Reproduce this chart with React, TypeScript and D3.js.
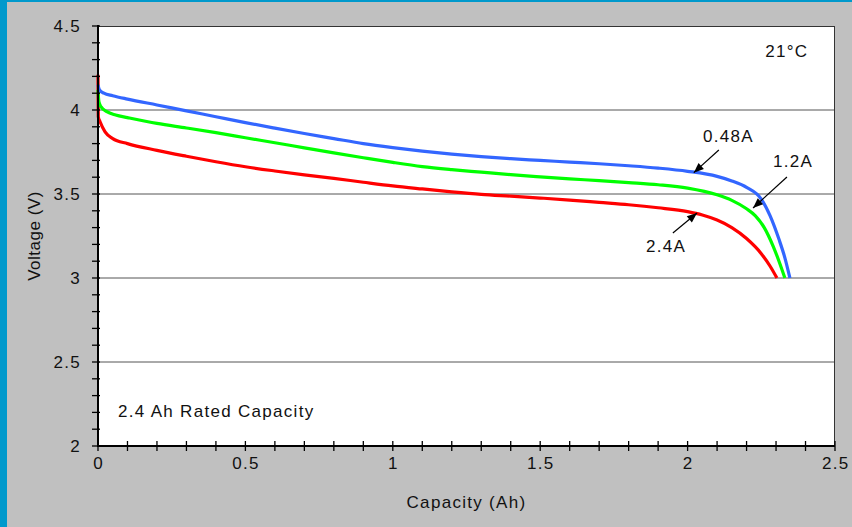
import React from "react";
import * as d3 from "d3";

const W = 852;
const H = 527;

const xTicksMajor = [0, 0.5, 1, 1.5, 2, 2.5];
const yTicksMajor = [2, 2.5, 3, 3.5, 4, 4.5];
const gridValues = [2.5, 3, 3.5, 4];

const redCap = [0, 0.001, 0.007, 0.024, 0.05, 0.1, 0.2, 0.3, 0.4, 0.5, 0.6, 0.7, 0.8, 0.9, 1.0, 1.1, 1.2, 1.3, 1.4, 1.5, 1.6, 1.7, 1.8, 1.9, 2.0, 2.05, 2.1, 2.15, 2.2, 2.25, 2.28, 2.303];
const redVolt = [4.21, 3.96, 3.93, 3.87, 3.83, 3.8, 3.76, 3.725, 3.692, 3.662, 3.637, 3.614, 3.593, 3.57, 3.548, 3.53, 3.513, 3.498, 3.487, 3.476, 3.464, 3.45, 3.436, 3.418, 3.395, 3.375, 3.345, 3.3, 3.235, 3.145, 3.07, 3.0];

const greenCap = [0, 0.003, 0.01, 0.03, 0.06, 0.1, 0.2, 0.3, 0.4, 0.5, 0.6, 0.7, 0.8, 0.9, 1.0, 1.1, 1.2, 1.3, 1.4, 1.5, 1.6, 1.7, 1.8, 1.9, 2.0, 2.1, 2.15, 2.2, 2.23, 2.26, 2.29, 2.31, 2.33];
const greenVolt = [4.12, 4.05, 4.02, 3.99, 3.97, 3.955, 3.92, 3.893, 3.865, 3.835, 3.805, 3.775, 3.745, 3.716, 3.688, 3.663, 3.645, 3.63, 3.615, 3.602, 3.59, 3.58, 3.568, 3.555, 3.535, 3.495, 3.462, 3.412, 3.37, 3.3, 3.19, 3.1, 3.0];

const blueCap = [0, 0.005, 0.02, 0.05, 0.1, 0.2, 0.3, 0.4, 0.5, 0.6, 0.7, 0.8, 0.9, 1.0, 1.1, 1.2, 1.3, 1.4, 1.5, 1.6, 1.7, 1.8, 1.9, 2.0, 2.1, 2.15, 2.2, 2.25, 2.28, 2.31, 2.33, 2.347];
const blueVolt = [4.15, 4.12, 4.1, 4.085, 4.065, 4.03, 3.995, 3.96, 3.925, 3.892, 3.86, 3.83, 3.8, 3.776, 3.755, 3.737, 3.722, 3.71, 3.7, 3.69, 3.68, 3.668, 3.654, 3.635, 3.605, 3.578, 3.54, 3.47, 3.37, 3.23, 3.12, 3.0];

const seriesNames = ["0.48A", "1.2A", "2.4A"];

export default function App() {
  const left = 98, right = 835, top = 26, bottom = 446;
  const x = d3.scaleLinear().domain([0, 2.5]).range([left, right]);
  const y = d3.scaleLinear().domain([2, 4.5]).range([bottom, top]);
  const line = d3
    .line<[number, number]>()
    .x((d) => x(d[0]))
    .y((d) => y(d[1]))
    .curve(d3.curveMonotoneX);

  const series = [
    { cap: redCap, volt: redVolt, color: "#ff0000" },
    { cap: greenCap, volt: greenVolt, color: "#00ff00" },
    { cap: blueCap, volt: blueVolt, color: "#3366ff" },
  ];

  const minorX = d3.range(0, 26).map((i) => i / 10);
  const minorY = d3.range(20, 46).map((i) => i / 10);

  const font = "'Liberation Sans', Arial, sans-serif";
  const fs = 17;
  const ls = 1.3;

  const annotations = [
    { label: seriesNames[0], tx: 2.052, ty: 3.811, from: [2.106, 3.762], to: [2.021, 3.627] },
    { label: seriesNames[1], tx: 2.29, ty: 3.661, from: [2.337, 3.601], to: [2.222, 3.417] },
    { label: seriesNames[2], tx: 1.859, ty: 3.157, from: [1.95, 3.268], to: [2.032, 3.387] },
  ];

  const arrowHead = (fx: number, fy: number, tx: number, ty: number) => {
    const ang = Math.atan2(ty - fy, tx - fx);
    const len = 10, half = 4;
    const bx = tx - len * Math.cos(ang);
    const by = ty - len * Math.sin(ang);
    const px = -Math.sin(ang) * half;
    const py = Math.cos(ang) * half;
    return `M${tx},${ty}L${bx + px},${by + py}L${bx - px},${by - py}Z`;
  };

  return (
    <svg
      width={W}
      height={H}
      style={{ position: "absolute", left: 0, top: 0 }}
      fontFamily={font}
    >
      <rect x={0} y={0} width={W} height={H} fill="#c0c0c0" />
      <rect x={0} y={0} width={W} height={2} fill="#0099cc" />
      <rect x={0} y={0} width={7} height={H} fill="#0099cc" />

      <rect x={left} y={top} width={right - left} height={bottom - top} fill="#ffffff" />
      {gridValues.map((v) => (
        <line key={v} x1={left} x2={right} y1={y(v)} y2={y(v)} stroke="#555" strokeWidth={1} />
      ))}
      <line x1={left} x2={right} y1={top + 0.5} y2={top + 0.5} stroke="#333" strokeWidth={1} />
      <line x1={right - 0.5} x2={right - 0.5} y1={top} y2={bottom} stroke="#333" strokeWidth={1} />

      {series.map((s, i) => (
        <path
          key={i}
          d={line(s.cap.map((c, j) => [c, s.volt[j]] as [number, number])) || ""}
          fill="none"
          stroke={s.color}
          strokeWidth={3.2}
          strokeLinejoin="round"
          strokeLinecap="butt"
        />
      ))}

      {/* axes */}
      <line x1={left} x2={left} y1={top - 1} y2={bottom + 1} stroke="#000" strokeWidth={2} />
      <line x1={left - 1} x2={right} y1={bottom} y2={bottom} stroke="#000" strokeWidth={2} />
      {minorY.map((v) => (
        <line key={"ty" + v} x1={left - 6} x2={left + 2} y1={y(v)} y2={y(v)} stroke="#000" strokeWidth={1.3} />
      ))}
      {minorX.map((v) => (
        <line key={"tx" + v} x1={x(v)} x2={x(v)} y1={bottom - 5} y2={bottom + 5} stroke="#000" strokeWidth={1.3} />
      ))}
      {yTicksMajor.map((v) => (
        <text key={"ly" + v} x={81} y={y(v)} dy="0.36em" textAnchor="end" fontSize={fs} letterSpacing={ls} fill="#111">
          {String(v)}
        </text>
      ))}
      {xTicksMajor.map((v) => (
        <text key={"lx" + v} x={x(v) + ls / 2} y={469} textAnchor="middle" fontSize={fs} letterSpacing={ls} fill="#111">
          {String(v)}
        </text>
      ))}
      <text x={(left + right) / 2} y={508} textAnchor="middle" fontSize={fs} letterSpacing={ls} fill="#111">
        Capacity (Ah)
      </text>
      <text
        transform={`translate(${40},${(top + bottom) / 2}) rotate(-90)`}
        textAnchor="middle"
        fontSize={fs}
        letterSpacing={0.5}
        fill="#111"
      >
        Voltage (V)
      </text>

      <text x={x(2.263)} y={y(4.315)} fontSize={fs} letterSpacing={ls} fill="#111">
        21°C
      </text>
      <text x={x(0.068)} y={y(2.173)} fontSize={fs} letterSpacing={ls} fill="#111">
        2.4 Ah Rated Capacity
      </text>

      {annotations.map((a) => {
        const fx = x(a.from[0]), fy = y(a.from[1]);
        const tx = x(a.to[0]), ty = y(a.to[1]);
        return (
          <g key={a.label}>
            <text x={x(a.tx)} y={y(a.ty)} fontSize={fs} letterSpacing={ls} fill="#111">
              {a.label}
            </text>
            <line x1={fx} y1={fy} x2={tx} y2={ty} stroke="#000" strokeWidth={1.2} />
            <path d={arrowHead(fx, fy, tx, ty)} fill="#000" />
          </g>
        );
      })}
    </svg>
  );
}
